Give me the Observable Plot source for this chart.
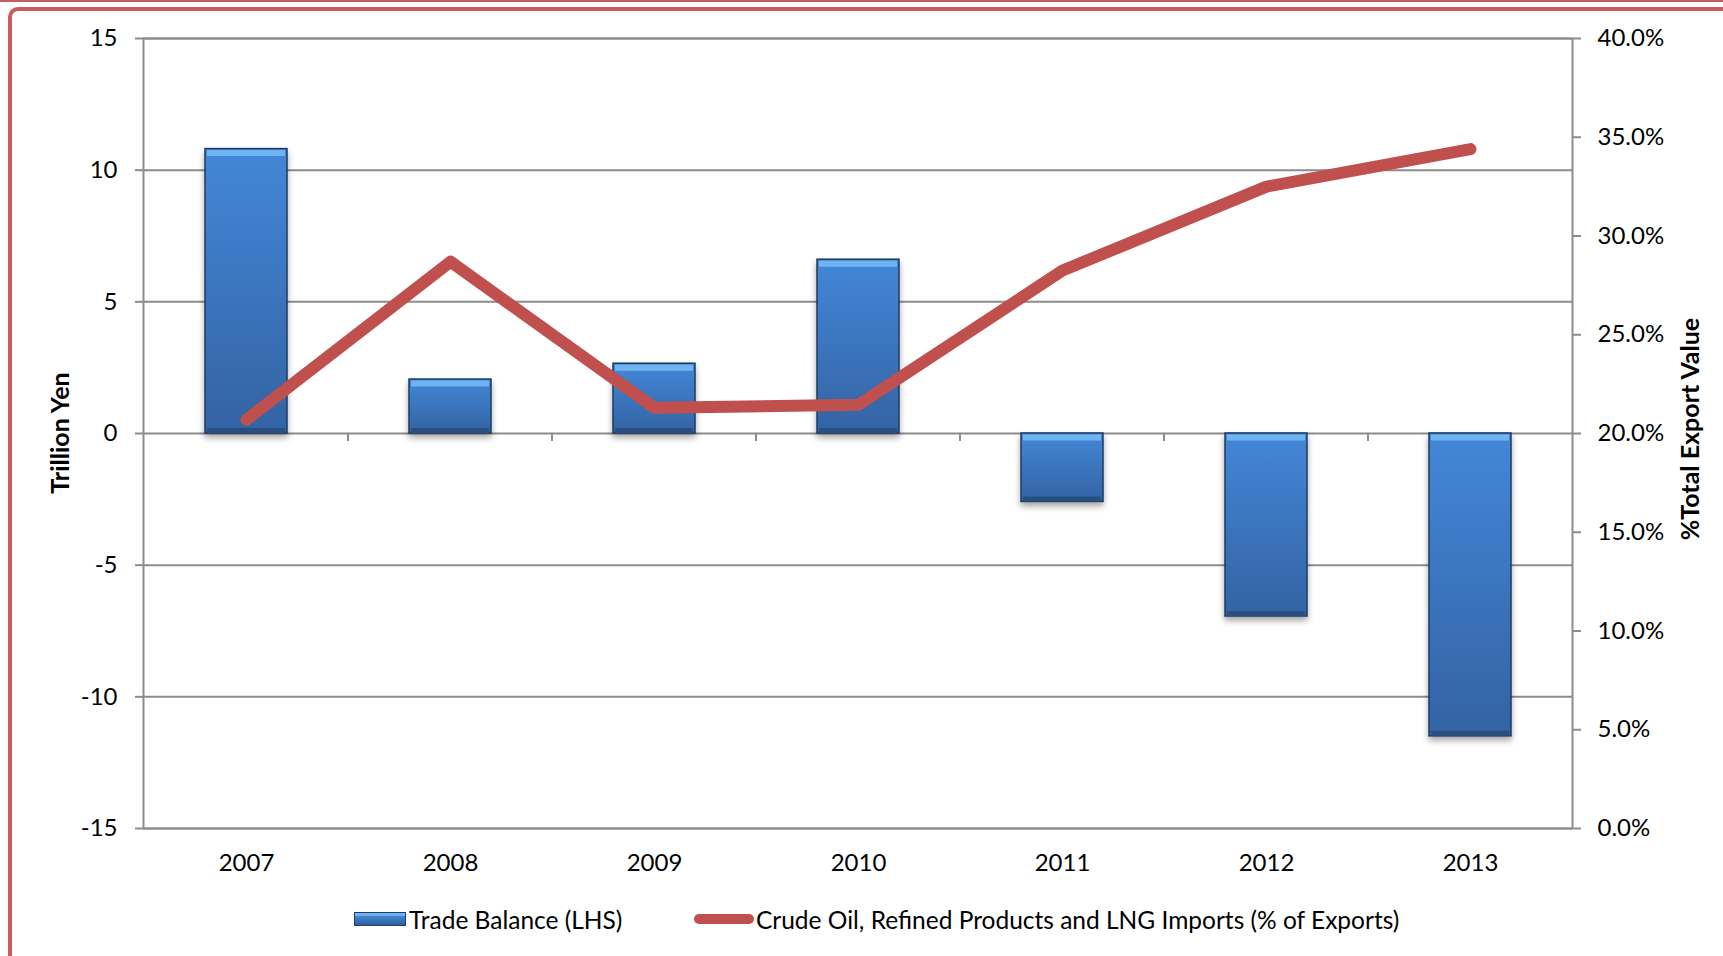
<!DOCTYPE html>
<html>
<head>
<meta charset="utf-8">
<script src="https://cdn.jsdelivr.net/npm/d3@7"></script>
<script src="https://cdn.jsdelivr.net/npm/@observablehq/plot@0.6"></script>
<style>
  html, body { margin: 0; padding: 0; background: #fff; width: 1723px; height: 956px; overflow: hidden; }
  body { position: relative; font-family: Lato, "Open Sans", sans-serif; }
  #topline { position: absolute; left: 0; top: 0; width: 1723px; height: 2px; background: #cc5b5b; }
  #frame { position: absolute; left: 8px; top: 7px; width: 1760px; height: 1000px; border: 4px solid #cc5b5b; border-radius: 10px; box-sizing: border-box; }
  #chart { position: absolute; left: 0; top: 0; }
  .ytitle { position: absolute; font-weight: bold; font-size: 25px; color: #000; white-space: nowrap; transform: translate(-50%, -50%) rotate(-90deg); }
  #legend { position: absolute; top: 905px; left: 0; width: 1723px; height: 28px; font-size: 24.5px; color: #000; }
  .item { position: absolute; top: 0; display: flex; align-items: center; height: 28px; }
  .sw-bar { width: 52px; height: 14px; background: linear-gradient(#6db2f0 0 3px, #4386d6 3px, #2f5f9c); border: 1px solid #1f3f66; box-sizing: border-box; margin-right: 3px; }
  .sw-line { width: 60px; height: 10px; border-radius: 5px; background: #c0504d; margin-right: 2px; }
</style>
</head>
<body>
<div id="topline"></div>
<div id="frame"></div>
<div id="chart"></div>
<div class="ytitle" style="left:59px; top:433px;">Trillion Yen</div>
<div class="ytitle" style="left:1689px; top:429px;">%Total Export Value</div>
<div id="legend">
  <div class="item" style="left:354px;"><div class="sw-bar"></div><span>Trade Balance (LHS)</span></div>
  <div class="item" style="left:694px;"><div class="sw-line"></div><span>Crude Oil, Refined Products and LNG Imports (% of Exports)</span></div>
</div>
<script>
const years = ["2007", "2008", "2009", "2010", "2011", "2012", "2013"];
const tradeBalance = [10.8, 2.05, 2.65, 6.6, -2.6, -6.95, -11.5];
const oilImportsPct = [20.7, 28.7, 21.3, 21.45, 28.25, 32.5, 34.4];
const leftTicks = [-15, -10, -5, 0, 5, 10, 15];
const rightTicks = [0, 5, 10, 15, 20, 25, 30, 35, 40];

// secondary axis mapping: 0%..40% onto -15..15
const pctToY = p => p * 0.75 - 15;
const yToPct = y => (y + 15) / 0.75;

const data = years.map((year, i) => ({year, tb: tradeBalance[i], pct: oilImportsPct[i]}));
const grid = "#8c8c8c";

const chart = Plot.plot({
  width: 1723,
  height: 880,
  marginLeft: 143,
  marginRight: 151,
  marginTop: 38,
  marginBottom: 52,
  style: {fontFamily: "Lato, 'Open Sans', sans-serif", fontSize: "24px", color: "#000", background: "transparent", overflow: "visible"},
  x: {domain: years, paddingInner: 0.6, paddingOuter: 0.3},
  y: {domain: [-15, 15]},
  marks: [
    Plot.ruleY(leftTicks, {stroke: grid, strokeWidth: 2}),
    Plot.frame({stroke: grid, strokeWidth: 2}),
    Plot.axisY(leftTicks, {anchor: "left", tickSize: 8, tickPadding: 18, stroke: grid, strokeWidth: 2, fill: "#000", fontSize: 24, label: null, tickFormat: d => String(d)}),
    Plot.axisY(rightTicks.map(pctToY), {anchor: "right", tickSize: 8, tickPadding: 17, stroke: grid, strokeWidth: 2, fill: "#000", fontSize: 24, label: null, tickFormat: v => yToPct(v).toFixed(1) + "%"}),
    Plot.axisX(years, {anchor: "bottom", tickSize: 0, tickPadding: 25, fill: "#000", fontSize: 24, label: null}),
    Plot.barY(data, {x: "year", y1: 0, y2: "tb", fill: "url(#barGrad)", stroke: "#1d3c64", strokeWidth: 1.5, className: "tbbars"}),
    Plot.tickY(data, {x: "year", y: d => Math.max(d.tb, 0), stroke: "#6fb4f2", strokeWidth: 6, dy: 4, insetLeft: 2, insetRight: 2}),
    Plot.tickY(data, {x: "year", y: d => Math.min(d.tb, 0), stroke: "#284f80", strokeWidth: 5, dy: -3, insetLeft: 2, insetRight: 2}),
    Plot.line(data, {x: "year", y: d => pctToY(d.pct), stroke: "#c0504d", strokeWidth: 12, strokeLinecap: "round", strokeLinejoin: "round"})
  ]
});

document.getElementById("chart").appendChild(chart);

// gradient and shadow definitions
const svg = d3.select(chart);
const defs = svg.insert("defs", ":first-child");
const lg = defs.append("linearGradient").attr("id", "barGrad").attr("x1", 0).attr("y1", 0).attr("x2", 0).attr("y2", 1);
lg.append("stop").attr("offset", "0%").attr("stop-color", "#4387d8");
lg.append("stop").attr("offset", "100%").attr("stop-color", "#3363a3");
svg.selectAll("g.tbbars").style("filter", "drop-shadow(0px 4px 3px rgba(0,0,0,0.35))");

// category boundary ticks on the zero line, positioned with Plot's own scales
const xs = chart.scale("x");
const ys = chart.scale("y");
const gap = xs.step - xs.bandwidth;
const y0 = ys.apply(0);
svg.append("g")
  .selectAll("line")
  .data(years.slice(1))
  .join("line")
  .attr("x1", d => xs.apply(d) - gap / 2)
  .attr("x2", d => xs.apply(d) - gap / 2)
  .attr("y1", y0)
  .attr("y2", y0 + 8)
  .attr("stroke", grid)
  .attr("stroke-width", 2);
// keep line above ticks
svg.node().appendChild(svg.select("g[aria-label='line']").node());
</script>
</body>
</html>
